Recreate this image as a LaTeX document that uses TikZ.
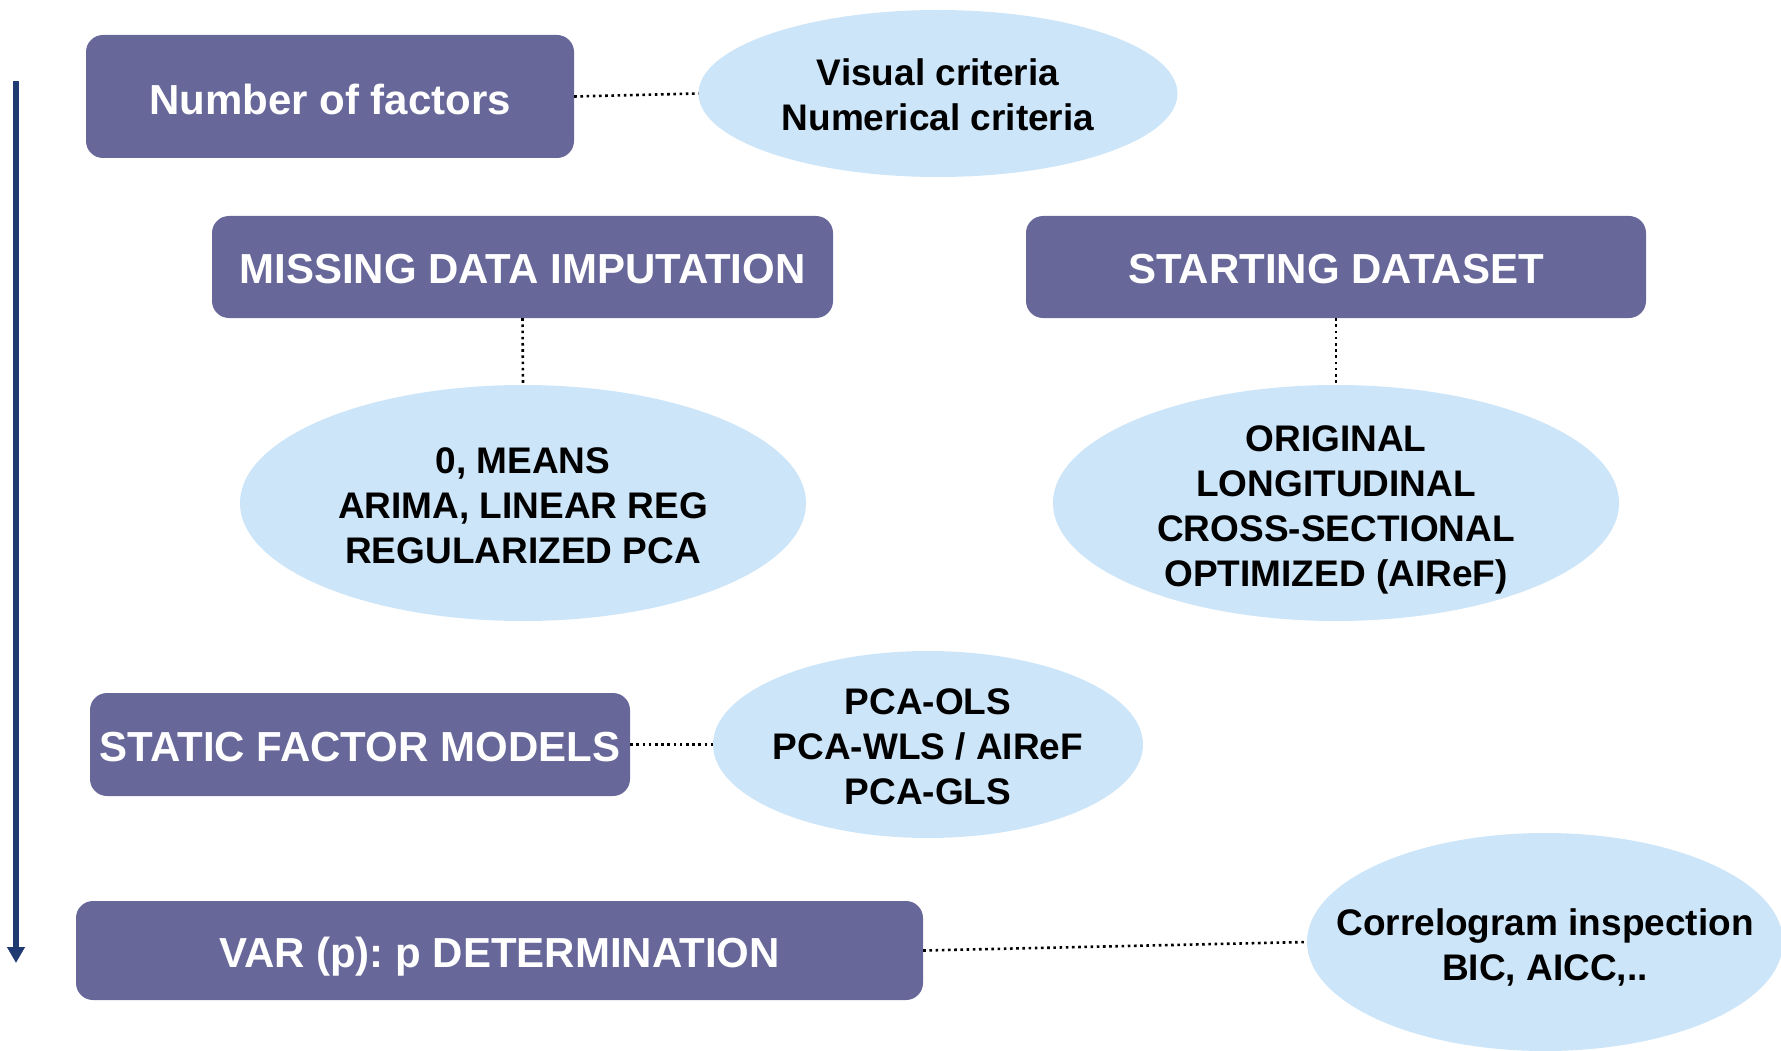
\documentclass[tikz,border=0pt]{standalone}
\usepackage{fontspec}
\setmainfont{Liberation Sans}
\frenchspacing
\usetikzlibrary{shapes.geometric,arrows.meta}
\definecolor{boxfill}{HTML}{67679A}
\definecolor{ellfill}{HTML}{CCE5F8}
\definecolor{arrowcol}{HTML}{203A72}
\tikzset{
  stepbox/.style={draw=none, fill=boxfill, rounded corners=17pt, inner sep=0pt},
  boxtext/.style={text=white, font=\fontsize{42}{48}\selectfont\bfseries\frenchspacing, inner sep=0pt, align=center},
  bubble/.style={ellipse, draw=none, fill=ellfill, inner sep=0pt},
  bubbletext/.style={text=black, font=\fontsize{37}{45}\selectfont\bfseries\frenchspacing, inner sep=0pt, align=center},
  dotline/.style={draw=black, line width=2.6pt, dash pattern=on 2.6pt off 3.6pt}
}
\begin{document}
\begin{tikzpicture}[x=1pt,y=-1pt]
\useasboundingbox (0,0) rectangle (1781,1051);
\clip (0,0) rectangle (1781,1051);
% boxes
\node[stepbox, minimum width=488pt, minimum height=123pt] (b1) at (330,96.5) {};
\node[stepbox, minimum width=621pt, minimum height=102pt] (b2) at (522.5,267) {};
\node[stepbox, minimum width=620pt, minimum height=102pt] (b3) at (1336,267) {};
\node[stepbox, minimum width=540pt, minimum height=103pt] (b4) at (360,744.5) {};
\node[stepbox, minimum width=847pt, minimum height=99pt] (b5) at (499.5,950.5) {};
\node[boxtext] (t1) at (330,99) {Number of factors};
\node[boxtext] (t2) at (522.5,269.5) {MISSING DATA IMPUTATION};
\node[boxtext] (t3) at (1336,269.5) {STARTING DATASET};
\node[boxtext] (t4) at (360,747) {STATIC FACTOR MODELS};
\node[boxtext] (t5) at (499.5,956.5) {VAR (p): p DETERMINATION};
% ellipses
\node[bubble, minimum width=479pt, minimum height=167pt] (e1) at (938,93.5) {};
\node[bubble, minimum width=566pt, minimum height=236pt] (e2) at (523,503) {};
\node[bubble, minimum width=566pt, minimum height=236pt] (e3) at (1336,503) {};
\node[bubble, minimum width=430pt, minimum height=187pt] (e4) at (928,744.5) {};
\node[bubble, minimum width=476pt, minimum height=218pt] (e5) at (1545,942) {};
\node[bubbletext] (u1) at (938,94.5) {Visual criteria\\Numerical criteria};
\node[bubbletext] (u2) at (523,505.5) {0, MEANS\\ARIMA, LINEAR REG\\REGULARIZED PCA};
\node[bubbletext] (u3) at (1336,510) {ORIGINAL\\LONGITUDINAL\\CROSS-SECTIONAL\\OPTIMIZED (AIReF)};
\node[bubbletext] (u4) at (928,747) {PCA-OLS\\PCA-WLS / AIReF\\PCA-GLS};
\node[bubbletext] (u5) at (1545,947) {Correlogram inspection\\BIC, AICC,..};
% connectors
\draw[dotline] (b1.east) -- (e1.west);
\draw[dotline] (b2.south) -- (e2.north);
\draw[dotline] (b3.south) -- (e3.north);
\draw[dotline] (b4.east) -- (e4.west);
\draw[dotline] (b5.east) -- (e5.west);
% time arrow
\coordinate (atop) at (16,81);
\coordinate (abot) at (16,963);
\draw[arrowcol, line width=5.5pt, -{Triangle[width=17pt,length=16pt]}] (atop) -- (abot);
\end{tikzpicture}
\end{document}
